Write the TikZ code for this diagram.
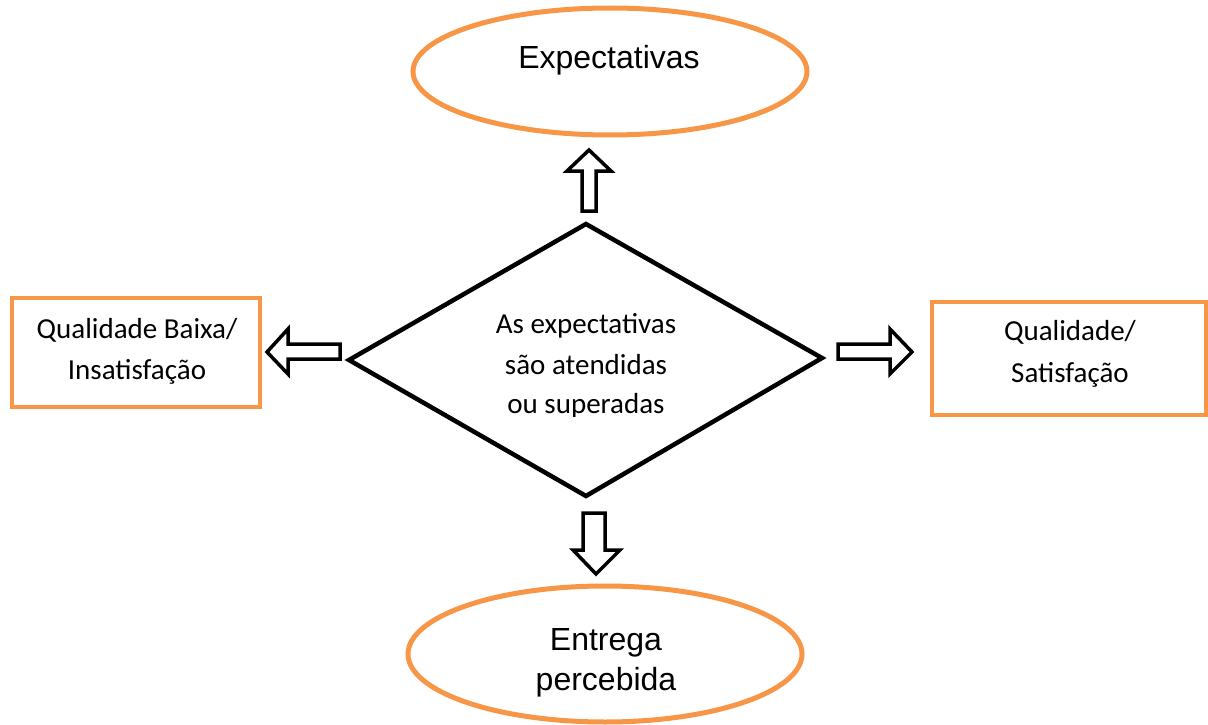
\documentclass[tikz,border=0pt]{standalone}
\usepackage{fontspec}
\setmainfont{Carlito}
\newfontfamily\arialfont{Liberation Sans}
\usetikzlibrary{shapes.geometric}
\definecolor{accentorange}{HTML}{F79646}
\tikzset{
  oval/.style={draw=accentorange, line width=5pt, ellipse, inner sep=0pt},
  outcome/.style={draw=accentorange, line width=4pt, inner sep=0pt},
  decision/.style={draw=black, line width=4.5pt, line join=miter},
  blockarrow/.style={draw=black, line width=3.5pt, fill=white, line join=miter},
  ovaltext/.style={font=\arialfont\fontsize{32}{38}\selectfont, anchor=base, inner sep=0pt},
  boxtext/.style={font=\fontsize{29}{35}\selectfont, anchor=base, inner sep=0pt}
}
\begin{document}
\begin{tikzpicture}[x=1pt, y=-1pt]
\useasboundingbox (0,0) rectangle (1208,725);

% ovals
\node[oval, minimum width=394pt, minimum height=127pt] (expect) at (610,71.5) {};
\node[ovaltext] (expecttxt) at (609,69) {Expectativas};

\node[oval, minimum width=394pt, minimum height=136pt] (entrega) at (605,654) {};
\node[ovaltext] (entregatxt1) at (606,650) {Entrega};
\node[ovaltext] (entregatxt2) at (606,690) {percebida};

% outcome boxes
\node[outcome, minimum width=248pt, minimum height=109pt] (baixa) at (136,352) {};
\node[boxtext] (baixatxt1) at (137,338) {Qualidade Baixa/};
\node[boxtext] (baixatxt2) at (137,379) {Insatisfação};

\node[outcome, minimum width=274pt, minimum height=113pt] (alta) at (1069,358) {};
\node[boxtext] (altatxt1) at (1070,340) {Qualidade/};
\node[boxtext] (altatxt2) at (1070,382) {Satisfação};

% decision diamond
\coordinate (dtop) at (586,224);
\coordinate (dleft) at (349,360);
\coordinate (dright) at (822,358);
\coordinate (dbottom) at (586,496);
\draw[decision] (dtop) -- (dright) -- (dbottom) -- (dleft) -- cycle;
\node[boxtext] (q1) at (586,333) {As expectativas};
\node[boxtext] (q2) at (586,374) {são atendidas};
\begin{scope}
  \clip (400,380) rectangle (800,416);
  \node[boxtext] (q3) at (586,413) {ou superadas};
\end{scope}

% block arrows
\draw[blockarrow] (589,150) -- (611,171) -- (596,171) -- (596,211) -- (582,211) -- (582,171) -- (567,171) -- cycle;
\draw[blockarrow] (596,574) -- (620,550) -- (605,550) -- (605,513) -- (583,513) -- (583,550) -- (573,550) -- cycle;
\draw[blockarrow] (267,352) -- (288,329) -- (288,344) -- (340,344) -- (340,359) -- (288,359) -- (288,374) -- cycle;
\draw[blockarrow] (912,352) -- (890,329) -- (890,344) -- (838,344) -- (838,359) -- (890,359) -- (890,374) -- cycle;
\end{tikzpicture}
\end{document}
